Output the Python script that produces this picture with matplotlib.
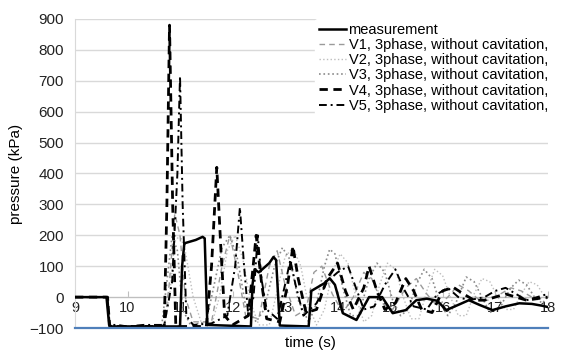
import matplotlib
matplotlib.use("Agg")
import matplotlib.pyplot as plt

plt.rcParams['font.family'] = ['Liberation Sans', 'DejaVu Sans']

# measurement
t_meas = [9, 9.6, 9.65, 9.7, 11.0, 11.04, 11.08, 11.1, 11.3, 11.43, 11.47, 11.52, 12.35, 12.38,
          12.42, 12.5, 12.7, 12.78, 12.83, 12.9, 13.45, 13.5, 13.6, 13.75, 13.85, 13.95, 14.1,
          14.36, 14.6, 14.85, 15.05, 15.3, 15.5, 15.7, 15.9, 16.07, 16.3, 16.5, 16.7, 16.95,
          17.2, 17.46, 17.7, 17.9, 18.0]
p_meas = [0, 0, -90, -95, -95, 100, 170, 175, 185, 195, 190, -90, -95, 40,
          90, 80, 110, 130, 120, -92, -95, 20, 30, 45, 61, 40, -52,
          -74, 0, 0, -52, -42, -10, -5, -12, -42, -25, -10, -25, -42,
          -30, -20, -22, -28, -32]

# V1, 3phase, without cavitation
t_v1 = [9, 9.62, 9.66, 10.7, 10.8, 10.9, 11.0, 11.1, 11.25, 11.6, 11.8, 11.95, 12.1, 12.25,
        12.5, 12.7, 12.85, 13.0, 13.2, 13.4, 13.55, 13.7, 13.9, 14.1, 14.3, 14.5, 14.65, 14.85,
        15.05, 15.3, 15.5, 15.7, 15.9, 16.1, 16.3, 16.5, 16.7, 16.9, 17.1, 17.3, 17.5, 17.7,
        17.9, 18.0]
p_v1 = [0, 0, -95, -95, 50, 270, 200, 0, -80, -80, 100, 200, 80, -60,
        -70, 100, 150, 40, -60, -40, 80, 100, 10, -50, 0, 80, 60, -20,
        -40, 30, 60, 10, -30, 0, 40, 20, -10, -10, 10, 30, 20, 0,
        -5, 0]

# V2, 3phase, without cavitation
t_v2 = [9, 9.62, 9.66, 10.7, 10.8, 10.9, 11.0, 11.1, 11.25, 11.4, 11.6, 11.75, 11.9, 12.05,
        12.2, 12.35, 12.5, 12.7, 12.85, 13.0, 13.15, 13.3, 13.45, 13.6, 13.75, 13.9, 14.05,
        14.2, 14.35, 14.5, 14.65, 14.8, 14.95, 15.1, 15.25, 15.4, 15.55, 15.7, 15.85, 16.0,
        16.15, 16.3, 16.45, 16.6, 16.75, 16.9, 17.05, 17.2, 17.35, 17.5, 17.65, 17.8, 17.95, 18.0]
p_v2 = [0, 0, -95, -95, 0, 180, 200, 150, 0, -80, -90, 0, 150, 200,
        120, -20, -90, -90, 20, 130, 160, 100, -30, -90, -40, 80, 140,
        110, 0, -80, -60, 40, 110, 90, 0, -70, -70, 20, 90, 70,
        0, -60, -60, 10, 60, 50, 0, -40, -40, 10, 50, 40, 0, -10]

# V3, 3phase, without cavitation
t_v3 = [9, 9.62, 9.66, 10.65, 10.75, 10.85, 10.95, 11.05, 11.2, 11.5, 11.65, 11.8, 11.95,
        12.1, 12.25, 12.45, 12.6, 12.8, 12.95, 13.1, 13.25, 13.45, 13.6, 13.75, 13.85, 13.95,
        14.1, 14.25, 14.4, 14.6, 14.75, 14.9, 15.05, 15.2, 15.35, 15.5, 15.65, 15.8, 15.95,
        16.1, 16.25, 16.45, 16.6, 16.75, 16.9, 17.1, 17.3, 17.45, 17.6, 17.75, 17.9, 18.0]
p_v3 = [0, 0, -95, -95, 50, 200, 150, -40, -90, -80, 40, 160, 200,
        120, -30, -80, -40, 100, 160, 120, -10, -80, -20, 100, 155, 140,
        30, -60, -60, 60, 110, 80, -10, -60, -40, 40, 90, 60, -20,
        -60, -20, 65, 50, 0, -50, -30, 30, 55, 40, 0, -20, 0]

# V4, 3phase, without cavitation
t_v4 = [9, 9.62, 9.66, 10.7, 10.75, 10.8, 10.86, 10.92, 11.5, 11.6, 11.7, 11.78, 11.85, 12.0,
        12.3, 12.45, 12.55, 12.65, 12.9, 13.05, 13.15, 13.25, 13.4, 13.6, 13.8, 14.0, 14.15,
        14.3, 14.5, 14.6, 14.75, 14.9, 15.1, 15.3, 15.45, 15.6, 15.8, 16.0, 16.2, 16.4, 16.6,
        16.8, 17.0, 17.2, 17.4, 17.6, 17.8, 18.0]
p_v4 = [0, 0, -95, -95, 300, 880, 300, -95, -95, 100, 420, 150, -60, -90,
        -60, 200, 50, -70, -80, 40, 165, 60, -50, -40, 60, 110, 20,
        -40, 30, 100, 20, -40, -20, 60, 20, -40, -50, 20, 32, 10, -10,
        -10, 0, 10, 0, -10, -5, 0]

# V5, 3phase, without cavitation
t_v5 = [9, 9.62, 9.66, 9.8, 10.0, 10.3, 10.7, 10.85, 10.95, 11.0, 11.05, 11.12, 11.25, 11.6,
        11.9, 12.05, 12.14, 12.22, 12.3, 12.4, 12.48, 12.55, 12.65, 12.85, 13.0, 13.1, 13.2,
        13.35, 13.6, 13.8, 14.0, 14.2, 14.35, 14.5, 14.7, 14.9, 15.1, 15.25, 15.45, 15.7, 15.9,
        16.1, 16.3, 16.5, 16.8, 17.0, 17.2, 17.4, 17.6, 17.8, 18.0]
p_v5 = [0, 0, -90, -90, -95, -90, -90, 50, 400, 715, 300, -60, -90, -85,
        -60, 100, 290, 100, -60, 0, 200, 60, -40, -70, 40, 120, 40,
        -60, -20, 50, 80, 100, 30, -40, -30, 40, 90, 30, -30, -40, 10,
        30, 0, -10, 0, 20, 30, 10, -10, 0, 10]

label_tail = ", 3phase, without cavitation,"

fig = plt.figure(figsize=(5.66, 3.54), dpi=100)
ax = fig.add_axes([0.1325, 0.0734, 0.835, 0.873])

ax.plot(t_meas, p_meas, color='black', lw=1.8, label='measurement', zorder=6)
ax.plot(t_v1, p_v1, color='#9a9a9a', lw=1.0, dashes=(4, 3), label='V1' + label_tail, zorder=3)
ax.plot(t_v2, p_v2, color='#bdbdbd', lw=1.0, linestyle=':', label='V2' + label_tail, zorder=2)
ax.plot(t_v3, p_v3, color='#8a8a8a', lw=1.2, linestyle=':', label='V3' + label_tail, zorder=3)
ax.plot(t_v4, p_v4, color='black', lw=2.0, dashes=(3, 2), label='V4' + label_tail, zorder=5)
ax.plot(t_v5, p_v5, color='black', lw=1.4, dashes=(4, 2, 1, 2), label='V5' + label_tail, zorder=4)

ax.set_xlim(9, 18)
ax.set_ylim(-100, 900)
ax.set_xticks(range(9, 19))
ax.set_yticks(range(-100, 901, 100))
ax.grid(axis='y', color='#d9d9d9', lw=1.0)
ax.set_axisbelow(True)

ax.spines['top'].set_visible(False)
ax.spines['right'].set_visible(False)
ax.spines['left'].set_color('#d9d9d9')
ax.spines['bottom'].set_position(('data', 0))
ax.spines['bottom'].set_color('#bfbfbf')
ax.axhline(-100, color='#4f7fba', lw=1.6, zorder=7, clip_on=False)

ax.tick_params(axis='x', direction='in', length=4, color='#bfbfbf', pad=3, labelsize=10.5)
ax.tick_params(axis='y', length=0, pad=8, labelsize=11)
for lbl in ax.get_xticklabels() + ax.get_yticklabels():
    lbl.set_color('#222222')

ax.set_ylabel('pressure (kPa)', fontsize=11, labelpad=5)
fig.text(0.548, 0.03, 'time (s)', ha='center', va='center', fontsize=11)

leg = ax.legend(loc='upper right', bbox_to_anchor=(1.025, 1.025), fontsize=10.5, frameon=True,
                handlelength=1.8, handletextpad=0.2, labelspacing=0.08, borderpad=0.3)
leg.get_frame().set_edgecolor('white')
leg.get_frame().set_facecolor('white')
leg.get_frame().set_alpha(1)

fig.savefig('out.png', dpi=100)
